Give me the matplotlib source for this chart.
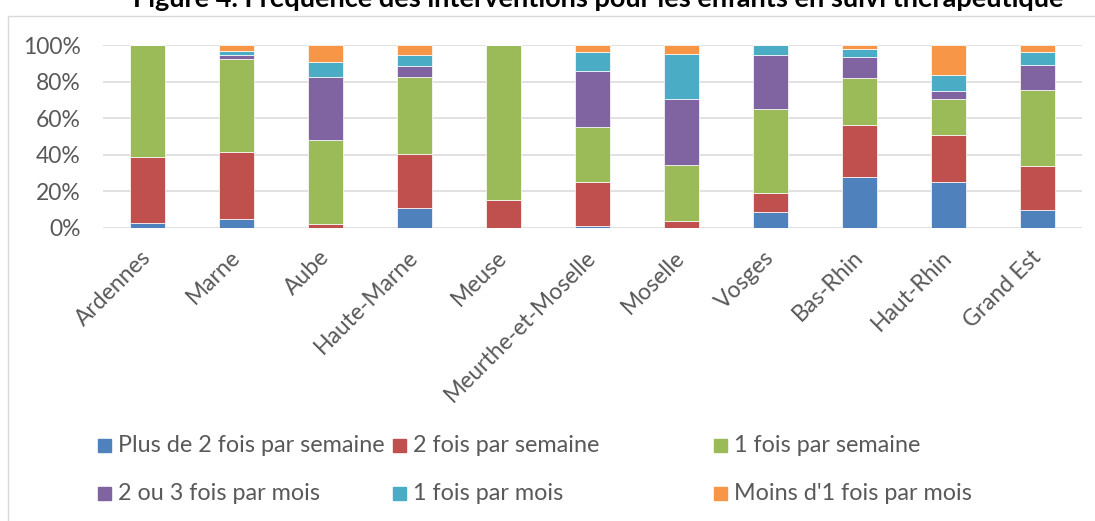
import numpy as np
import matplotlib
matplotlib.use("Agg")
import matplotlib.pyplot as plt
from matplotlib.patches import Rectangle

# Données (en %)
departements = ["Ardennes", "Marne", "Aube", "Haute-Marne", "Meuse",
                "Meurthe-et-Moselle", "Moselle", "Vosges", "Bas-Rhin",
                "Haut-Rhin", "Grand Est"]
plus_2_semaine = [2.4, 4.9, 0.0, 10.6, 0.0, 1.1, 0.0, 8.6, 27.5, 25.0, 9.5]
deux_semaine = [36.2, 36.3, 1.8, 29.8, 15.3, 23.9, 3.8, 10.5, 28.6, 25.8, 24.0]
un_semaine = [61.4, 51.0, 46.1, 41.9, 84.7, 30.0, 30.4, 45.7, 25.9, 19.5, 41.7]
deux_trois_mois = [0.0, 2.5, 34.6, 6.4, 0.0, 31.0, 36.3, 29.7, 11.4, 4.7, 14.1]
un_mois = [0.0, 2.0, 8.2, 6.0, 0.0, 10.0, 24.6, 5.5, 4.6, 8.6, 6.7]
moins_un_mois = [0.0, 3.3, 9.3, 5.3, 0.0, 4.0, 4.9, 0.0, 2.0, 16.4, 4.0]

series = [plus_2_semaine, deux_semaine, un_semaine, deux_trois_mois, un_mois, moins_un_mois]
labels = ["Plus de 2 fois par semaine", "2 fois par semaine", "1 fois par semaine",
          "2 ou 3 fois par mois", "1 fois par mois", "Moins d'1 fois par mois"]
couleurs = ["#4F81BD", "#C0504D", "#9BBB59", "#8064A2", "#4BACC6", "#F79646"]

plt.rcParams['font.family'] = ['Lato', 'DejaVu Sans']
gris = "#595959"
W, H = 1095, 521

fig = plt.figure(figsize=(W / 100, H / 100), dpi=100)
ax = fig.add_axes([103 / W, 1 - 227.7 / H, (1082 - 103) / W, (227.7 - 45) / H])

x = np.arange(len(departements))
bas = np.zeros(len(departements))
for vals, lab, c in zip(series, labels, couleurs):
    v = np.array(vals)
    ax.bar(x, v, 0.4, bottom=bas, color=c, edgecolor="white", linewidth=0.5,
           label=lab, zorder=3)
    bas += v

ax.set_xlim(-0.5, len(departements) - 0.5)
ax.set_ylim(0, 100)
ax.set_yticks(range(0, 101, 20))
ax.set_yticklabels([f"{t}%" for t in range(0, 101, 20)], fontsize=16.5, color=gris)
ax.set_xticks(x)
ax.set_xticklabels(departements, rotation=45, ha="right", va="center",
                   rotation_mode="anchor", fontsize=16.5, color=gris)
ax.tick_params(axis="both", length=0)
ax.tick_params(axis="x", pad=19)
ax.tick_params(axis="y", pad=16)
ax.grid(axis="y", color="#D9D9D9", linewidth=1.1, zorder=0)
for s in ax.spines.values():
    s.set_visible(False)

# Légende placée à la main (style Excel)
col_x = [98, 393, 714]
row_y = [445, 493]
for i, (lab, c) in enumerate(zip(labels, couleurs)):
    cx = col_x[i % 3]
    cy = row_y[i // 3]
    fig.add_artist(Rectangle((cx / W, 1 - (cy + 6.5) / H), 13 / W, 13 / H,
                             transform=fig.transFigure, color=c))
    fig.text((cx + 20) / W, 1 - cy / H, lab, fontsize=16.8, color=gris,
             va="center", ha="left")

# Cadre du graphique
fig.add_artist(Rectangle((8 / W, -0.1), 1.2, 1 - 15.5 / H + 0.1,
                         transform=fig.transFigure, fill=False,
                         edgecolor="#D9D9D9", linewidth=1))

# Titre (coupé en haut dans l'original)
fig.text(598 / W, 1 - 7 / H,
         "Figure 4. Fréquence des interventions pour les enfants en suivi thérapeutique",
         fontsize=19.5, fontweight="bold", color="black", ha="center", va="baseline")

fig.savefig("out.png", dpi=100)
